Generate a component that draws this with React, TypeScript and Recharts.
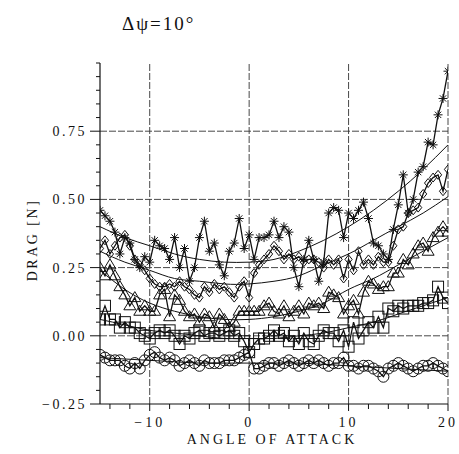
import { LineChart, Line, XAxis, YAxis, ReferenceLine } from 'recharts'

// angle of attack, 0.5 deg steps
const ANGLES = [
  -15, -14.5, -14, -13.5, -13, -12.5, -12, -11.5, -11, -10.5,
  -10, -9.5, -9, -8.5, -8, -7.5, -7, -6.5, -6, -5.5,
  -5, -4.5, -4, -3.5, -3, -2.5, -2, -1.5, -1, -0.5,
  0, 0.5, 1, 1.5, 2, 2.5, 3, 3.5, 4, 4.5,
  5, 5.5, 6, 6.5, 7, 7.5, 8, 8.5, 9, 9.5,
  10, 10.5, 11, 11.5, 12, 12.5, 13, 13.5, 14, 14.5,
  15, 15.5, 16, 16.5, 17, 17.5, 18, 18.5, 19, 19.5,
  20,
]

const STAR = [
  0.46, 0.44, 0.42, 0.38, 0.30, 0.36, 0.34, 0.28, 0.25, 0.29,
  0.27, 0.35, 0.33, 0.32, 0.28, 0.36, 0.25, 0.32, 0.20, 0.25,
  0.36, 0.42, 0.31, 0.34, 0.26, 0.22, 0.31, 0.34, 0.43, 0.32,
  0.37, 0.28, 0.36, 0.36, 0.37, 0.42, 0.36, 0.40, 0.38, 0.25,
  0.18, 0.28, 0.35, 0.28, 0.20, 0.27, 0.45, 0.47, 0.46, 0.36,
  0.45, 0.43, 0.46, 0.49, 0.43, 0.34, 0.33, 0.30, 0.28, 0.39,
  0.48, 0.59, 0.45, 0.50, 0.60, 0.62, 0.71, 0.70, 0.81, 0.87,
  0.97,
]

const DIAMOND = [
  0.32, 0.35, 0.30, 0.33, 0.36, 0.37, 0.33, 0.28, 0.26, 0.24,
  0.21, 0.19, 0.18, 0.18, 0.19, 0.18, 0.20, 0.18, 0.17, 0.15,
  0.14, 0.18, 0.16, 0.19, 0.17, 0.18, 0.16, 0.14, 0.18, 0.20,
  0.14, 0.23, 0.26, 0.28, 0.30, 0.33, 0.31, 0.28, 0.30, 0.28,
  0.29, 0.27, 0.28, 0.28, 0.27, 0.25, 0.28, 0.26, 0.28, 0.21,
  0.28, 0.24, 0.31, 0.26, 0.28, 0.26, 0.29, 0.27, 0.27, 0.33,
  0.39, 0.40, 0.45, 0.46, 0.47, 0.52, 0.56, 0.58, 0.59, 0.53,
  0.61,
]

const TRIANGLE = [
  0.25, 0.22, 0.26, 0.22, 0.18, 0.15, 0.11, 0.14, 0.09, 0.11,
  0.09, 0.09, 0.15, 0.17, 0.07, 0.15, 0.13, 0.09, 0.07, 0.08,
  0.05, 0.08, 0.07, 0.03, 0.08, 0.06, 0.03, 0.05, 0.09, 0.09,
  0.09, 0.09, 0.09, 0.11, 0.12, 0.09, 0.08, 0.11, 0.07, 0.09,
  0.11, 0.08, 0.12, 0.11, 0.12, 0.10, 0.16, 0.15, 0.14, 0.08,
  0.11, 0.13, 0.08, 0.16, 0.20, 0.19, 0.17, 0.18, 0.18, 0.23,
  0.23, 0.28, 0.26, 0.30, 0.33, 0.34, 0.31, 0.36, 0.38, 0.40,
  0.38,
]

const SQUARE = [
  0.06, 0.11, 0.06, 0.06, 0.03, 0.05, 0.03, 0.03, 0.01, 0.00,
  -0.01, 0.01, 0.02, 0.01, 0.02, 0.00, -0.03, 0.00, -0.01, 0.01,
  0.02, 0.00, 0.01, 0.01, 0.00, 0.01, 0.02, 0.00, 0.01, -0.02,
  -0.06, -0.03, -0.01, -0.01, 0.00, 0.02, 0.00, 0.01, -0.02, 0.00,
  -0.03, 0.01, -0.02, -0.03, 0.00, 0.02, 0.01, 0.01, -0.02, 0.02,
  -0.04, 0.05, -0.01, 0.02, 0.05, 0.03, 0.07, 0.03, 0.10, 0.09,
  0.11, 0.10, 0.11, 0.11, 0.11, 0.12, 0.12, 0.13, 0.18, 0.14,
  0.12,
]

const CIRCLE = [
  -0.07, -0.08, -0.09, -0.09, -0.09, -0.11, -0.12, -0.10, -0.12, -0.09,
  -0.07, -0.06, -0.08, -0.09, -0.08, -0.09, -0.11, -0.10, -0.09, -0.10,
  -0.11, -0.09, -0.10, -0.10, -0.10, -0.09, -0.09, -0.09, -0.08, -0.07,
  -0.06, -0.12, -0.12, -0.11, -0.10, -0.10, -0.11, -0.10, -0.09, -0.10,
  -0.11, -0.10, -0.09, -0.10, -0.09, -0.10, -0.11, -0.10, -0.10, -0.08,
  -0.11, -0.11, -0.12, -0.11, -0.11, -0.12, -0.13, -0.15, -0.12, -0.11,
  -0.10, -0.11, -0.12, -0.13, -0.12, -0.11, -0.11, -0.10, -0.11, -0.12,
  -0.13,
]

// smooth trend curves, sampled every 2.5 deg
const FIT_ANGLES = [-15, -12.5, -10, -7.5, -5, -2.5, 0, 2.5, 5, 7.5, 10, 12.5, 15, 17.5, 20]
const STAR_FIT = [0.40, 0.36, 0.33, 0.30, 0.28, 0.27, 0.27, 0.28, 0.31, 0.35, 0.40, 0.46, 0.53, 0.61, 0.70]
const DIAMOND_FIT = [0.31, 0.27, 0.24, 0.21, 0.20, 0.19, 0.19, 0.20, 0.22, 0.26, 0.30, 0.35, 0.40, 0.45, 0.51]
const TRIANGLE_FIT = [0.24, 0.17, 0.12, 0.09, 0.07, 0.06, 0.06, 0.07, 0.09, 0.12, 0.17, 0.21, 0.26, 0.31, 0.36]
const SQUARE_FIT = [0.06, 0.04, 0.02, 0.01, 0.00, -0.01, -0.01, -0.01, 0.00, 0.01, 0.03, 0.05, 0.08, 0.11, 0.14]
const CIRCLE_FIT = [-0.08, -0.085, -0.09, -0.095, -0.1, -0.1, -0.1, -0.1, -0.1, -0.105, -0.11, -0.115, -0.12, -0.125, -0.13]

const X_TICKS = [-14, -12, -10, -8, -6, -4, -2, 0, 2, 4, 6, 8, 10, 12, 14, 16, 18, 20]
const X_LABELS = [-10, 0, 10, 20]
const Y_TICKS = [
  -0.25, -0.2, -0.15, -0.1, -0.05, 0, 0.05, 0.1, 0.15, 0.2, 0.25, 0.3, 0.35,
  0.4, 0.45, 0.5, 0.55, 0.6, 0.65, 0.7, 0.75, 0.8, 0.85, 0.9, 0.95, 1.0,
]
const Y_LABELS = [-0.25, 0, 0.25, 0.5, 0.75]
const GRID_X = [-10, 0, 10, 20]
const GRID_Y = [0, 0.25, 0.5, 0.75]

const rows = ANGLES.map((angle, i) => ({
  angle,
  star: STAR[i],
  diamond: DIAMOND[i],
  triangle: TRIANGLE[i],
  square: SQUARE[i],
  circle: CIRCLE[i],
}))

const fitRows = FIT_ANGLES.map((angle, i) => ({
  angle,
  star: STAR_FIT[i],
  diamond: DIAMOND_FIT[i],
  triangle: TRIANGLE_FIT[i],
  square: SQUARE_FIT[i],
  circle: CIRCLE_FIT[i],
}))

const INK = '#111'
const FONT = '"Liberation Serif", "DejaVu Serif", serif'

const isOn = (list: number[], v: number) => list.some((l) => Math.abs(l - v) < 1e-6)
const fmt = (v: number, digits: number) => v.toFixed(digits).replace('-', '\u2212')

function XTick(props: any) {
  const { x, y, payload } = props
  const major = isOn(X_LABELS, payload.value)
  return (
    <g>
      <line x1={x} y1={y} x2={x} y2={y + (major ? 7 : 5)} stroke={INK} strokeWidth={1} />
      {major && (
        <text x={x} y={y + 23} textAnchor="middle" fontFamily={FONT} fontSize={14} letterSpacing={3} fill={INK}>
          {fmt(payload.value, 0)}
        </text>
      )}
    </g>
  )
}

function YTick(props: any) {
  const { x, y, payload } = props
  const major = isOn(Y_LABELS, payload.value)
  return (
    <g>
      <line x1={x} y1={y} x2={x - (major ? 10 : 4)} y2={y} stroke={INK} strokeWidth={1} />
      {major && (
        <text x={x - 13} y={y + 5} textAnchor="end" fontFamily={FONT} fontSize={14} letterSpacing={2.5} fill={INK}>
          {fmt(payload.value, 2)}
        </text>
      )}
    </g>
  )
}

// marker shapes
const mark = { fill: 'none', stroke: INK, strokeWidth: 1 }

const starDot = (p: any) => {
  const { cx, cy, index } = p
  const r = 4.5
  const d = r * 0.7
  return (
    <g key={`st-${index}`} {...mark}>
      <line x1={cx - r} y1={cy} x2={cx + r} y2={cy} />
      <line x1={cx} y1={cy - r} x2={cx} y2={cy + r} />
      <line x1={cx - d} y1={cy - d} x2={cx + d} y2={cy + d} />
      <line x1={cx - d} y1={cy + d} x2={cx + d} y2={cy - d} />
    </g>
  )
}

const diamondDot = (p: any) => {
  const { cx, cy, index } = p
  const r = 4.5
  return (
    <polygon
      key={`dm-${index}`}
      points={`${cx},${cy - r} ${cx + r * 0.8},${cy} ${cx},${cy + r} ${cx - r * 0.8},${cy}`}
      {...mark}
    />
  )
}

const triangleDot = (p: any) => {
  const { cx, cy, index } = p
  const h = 10
  const w = 6
  return (
    <polygon
      key={`tr-${index}`}
      points={`${cx},${cy - h * 0.6} ${cx + w},${cy + h * 0.4} ${cx - w},${cy + h * 0.4}`}
      {...mark}
    />
  )
}

const squareDot = (p: any) => {
  const { cx, cy, index } = p
  const s = 5.5
  return <rect key={`sq-${index}`} x={cx - s} y={cy - s} width={s * 2} height={s * 2} {...mark} />
}

const circleDot = (p: any) => {
  const { cx, cy, index } = p
  return <circle key={`ci-${index}`} cx={cx} cy={cy} r={5.5} {...mark} />
}

const SERIES = [
  { key: 'star', dot: starDot },
  { key: 'diamond', dot: diamondDot },
  { key: 'triangle', dot: triangleDot },
  { key: 'square', dot: squareDot },
  { key: 'circle', dot: circleDot },
]

export default function App() {
  return (
    <div style={{ position: 'absolute', left: 0, top: 0, width: 459, height: 454, background: '#fff' }}>
      <div
        style={{
          position: 'absolute',
          left: 122,
          top: 13,
          fontFamily: FONT,
          fontSize: 19,
          letterSpacing: 2,
          color: INK,
        }}
      >
        Δψ=10°
      </div>
      <div
        style={{
          position: 'absolute',
          left: 33,
          top: 240,
          transform: 'translate(-50%, -50%) rotate(-90deg)',
          fontFamily: FONT,
          fontSize: 14,
          letterSpacing: 2.5,
          whiteSpace: 'nowrap',
          color: INK,
        }}
      >
        DRAG [N]
      </div>
      <div
        style={{
          position: 'absolute',
          left: 272,
          top: 440,
          transform: 'translate(-50%, -50%)',
          fontFamily: FONT,
          fontSize: 14,
          letterSpacing: 3,
          whiteSpace: 'nowrap',
          color: INK,
        }}
      >
        ANGLE OF ATTACK
      </div>
      <LineChart width={459} height={454} data={rows} margin={{ top: 63, right: 11, left: 0, bottom: 0 }}>
        <XAxis
          dataKey="angle"
          type="number"
          domain={[-15, 20]}
          ticks={X_TICKS}
          interval={0}
          tick={<XTick />}
          tickLine={false}
          tickSize={0}
          tickMargin={0}
          height={50}
          axisLine={{ stroke: INK, strokeWidth: 1.2 }}
          allowDataOverflow
        />
        <YAxis
          type="number"
          domain={[-0.25, 1]}
          ticks={Y_TICKS}
          interval={0}
          tick={<YTick />}
          tickLine={false}
          tickSize={0}
          tickMargin={0}
          width={100}
          axisLine={{ stroke: INK, strokeWidth: 1.2 }}
          allowDataOverflow
        />
        {GRID_X.map((v) => (
          <ReferenceLine key={`gx${v}`} x={v} stroke="#333" strokeWidth={0.9} strokeDasharray="7 2" />
        ))}
        {GRID_Y.map((v) => (
          <ReferenceLine key={`gy${v}`} y={v} stroke="#333" strokeWidth={0.9} strokeDasharray="7 2" />
        ))}
        {SERIES.map((s) => (
          <Line
            key={`fit-${s.key}`}
            data={fitRows}
            dataKey={s.key}
            type="natural"
            stroke={INK}
            strokeWidth={1}
            dot={false}
            isAnimationActive={false}
          />
        ))}
        {SERIES.map((s) => (
          <Line
            key={s.key}
            dataKey={s.key}
            type="linear"
            stroke={INK}
            strokeWidth={1.3}
            dot={s.dot}
            isAnimationActive={false}
          />
        ))}
      </LineChart>
    </div>
  )
}
